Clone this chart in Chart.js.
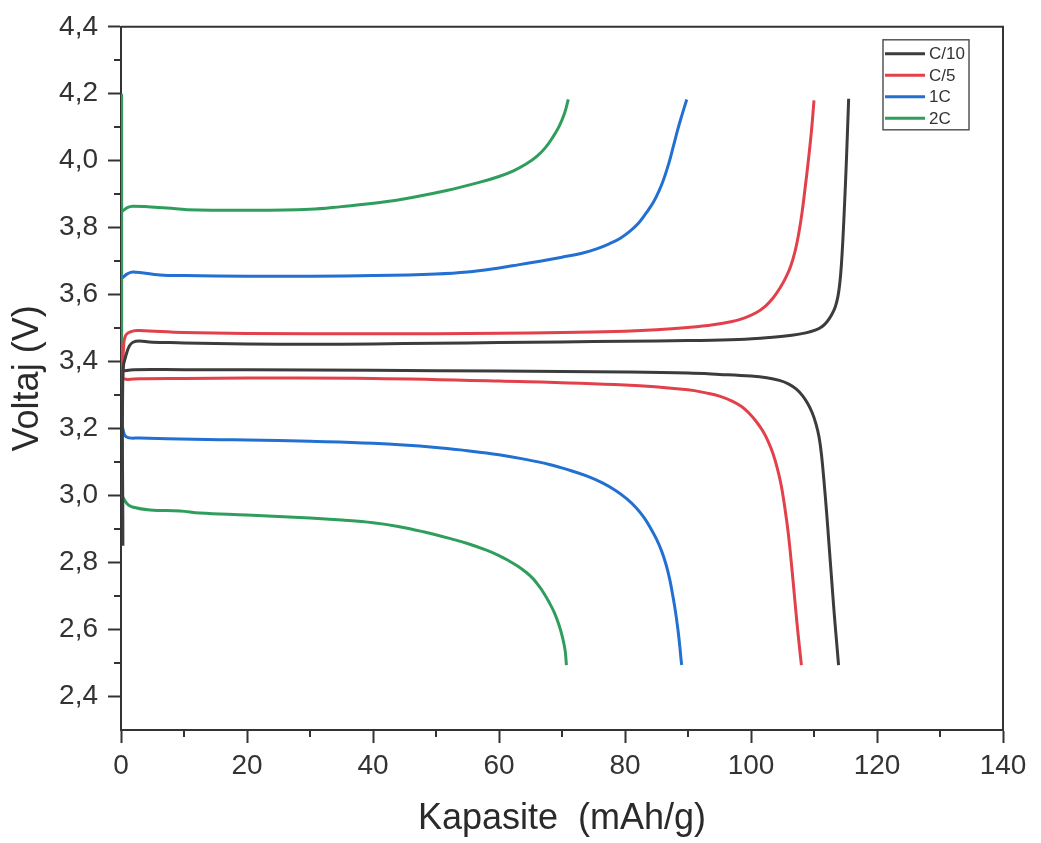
<!DOCTYPE html>
<html>
<head>
<meta charset="utf-8">
<title>Voltaj - Kapasite</title>
<script src="https://cdn.jsdelivr.net/npm/chart.js@4.4.0/dist/chart.umd.min.js"></script>
<style>
  html, body { margin: 0; padding: 0; background: #fff; }
  #wrap { width: 1041px; height: 843px; }
</style>
</head>
<body>
<div id="wrap"><canvas id="chart" width="1041" height="843"></canvas></div>
<script>
// legend labels and colours
const rateLabels = ['C/10', 'C/5', '1C', '2C'];
const rateColors = ['#3c3c3c', '#e2404a', '#2270d2', '#2f9e5c'];

// tick labels
const xTicks = [0, 20, 40, 60, 80, 100, 120, 140];
const yTicks = [2.4, 2.6, 2.8, 3.0, 3.2, 3.4, 3.6, 3.8, 4.0, 4.2, 4.4];
const xMinorTicks = [10, 30, 50, 70, 90, 110, 130];
const yMinorTicks = [2.5, 2.7, 2.9, 3.1, 3.3, 3.5, 3.7, 3.9, 4.1, 4.3];

// C/10 (mAh/g, V)
const c10ChargeCap = [0.3, 0.3, 0.8, 1.9, 5, 10, 20, 30, 40, 50, 60, 70, 80, 90, 98, 103, 106.5, 108.7, 110.2, 111.3, 112.1, 112.8, 113.4, 113.8, 114.1, 114.35, 114.6, 114.85, 115.1, 115.3, 115.5];
const c10ChargeV   = [2.85, 3.37, 3.42, 3.458, 3.458, 3.456, 3.453, 3.452, 3.453, 3.455, 3.457, 3.459, 3.461, 3.463, 3.466, 3.472, 3.479, 3.486, 3.494, 3.505, 3.52, 3.54, 3.565, 3.595, 3.635, 3.69, 3.77, 3.87, 3.98, 4.08, 4.185];
const c10DisCap = [0.3, 2, 10, 20, 40, 60, 80, 90, 95, 100, 102.5, 104.5, 106, 107.2, 108.2, 109, 109.7, 110.3, 110.8, 111.2, 111.6, 112, 112.4, 112.8, 113.2, 113.6, 113.9];
const c10DisV   = [3.372, 3.376, 3.376, 3.376, 3.374, 3.372, 3.369, 3.366, 3.362, 3.357, 3.352, 3.344, 3.333, 3.318, 3.298, 3.275, 3.248, 3.215, 3.175, 3.12, 3.04, 2.95, 2.85, 2.75, 2.65, 2.56, 2.494];

// C/5
const c5ChargeCap = [0.3, 0.4, 0.8, 2, 3, 10, 20, 40, 60, 70, 80, 85, 90, 94, 97, 99, 100.8, 102.3, 103.5, 104.6, 105.5, 106.3, 107, 107.6, 108.1, 108.6, 109.1, 109.6, 110];
const c5ChargeV   = [3.35, 3.44, 3.48, 3.492, 3.493, 3.487, 3.484, 3.483, 3.485, 3.487, 3.491, 3.495, 3.502, 3.51, 3.52, 3.531, 3.546, 3.566, 3.59, 3.62, 3.65, 3.685, 3.73, 3.785, 3.845, 3.92, 4.0, 4.09, 4.18];
const c5DisCap = [0.3, 1, 3, 10, 20, 40, 60, 80, 90, 93, 95, 97, 98.5, 99.7, 100.8, 101.8, 102.7, 103.5, 104.2, 104.8, 105.4, 105.9, 106.4, 106.9, 107.4, 108];
const c5DisV   = [3.35, 3.347, 3.349, 3.35, 3.351, 3.35, 3.342, 3.33, 3.316, 3.306, 3.297, 3.282, 3.266, 3.246, 3.222, 3.195, 3.163, 3.125, 3.08, 3.03, 2.96, 2.89, 2.8, 2.7, 2.6, 2.494];

// 1C
const c1ChargeCap = [0.2, 1, 1.9, 6.2, 10, 20, 30, 40, 50, 55, 60, 63, 66.5, 70, 73, 75.5, 77.5, 79.2, 80.8, 82.2, 83.4, 84.5, 85.4, 86.2, 87, 87.7, 88.4, 89.1, 89.8];
const c1ChargeV   = [3.65, 3.662, 3.668, 3.659, 3.657, 3.655, 3.655, 3.657, 3.662, 3.668, 3.68, 3.689, 3.7, 3.712, 3.723, 3.737, 3.752, 3.768, 3.79, 3.815, 3.845, 3.876, 3.91, 3.948, 3.995, 4.045, 4.095, 4.14, 4.183];
const c1DisCap = [0.2, 0.8, 3, 7.3, 15.7, 20, 30, 40, 50, 55, 60, 64, 68, 71, 74, 76.5, 78.5, 80.3, 81.8, 83, 84, 85, 85.8, 86.5, 87.1, 87.6, 88, 88.4, 88.7, 88.9, 89];
const c1DisV   = [3.206, 3.176, 3.172, 3.17, 3.167, 3.166, 3.162, 3.156, 3.144, 3.134, 3.122, 3.109, 3.093, 3.077, 3.058, 3.037, 3.015, 2.99, 2.963, 2.935, 2.905, 2.87, 2.835, 2.795, 2.75, 2.7, 2.655, 2.6, 2.55, 2.51, 2.494];

// 2C
const c2RestCap = [0.1, 0.1];
const c2RestV   = [4.2, 2.99];
const c2ChargeCap = [0.1, 1, 1.9, 7.3, 10.5, 20, 30, 35, 41.1, 46.4, 51.7, 57, 60, 62.3, 64.3, 66, 67.4, 68.6, 69.6, 70.4, 71];
const c2ChargeV   = [3.847, 3.86, 3.864, 3.859, 3.854, 3.852, 3.855, 3.863, 3.875, 3.891, 3.911, 3.936, 3.953, 3.97, 3.99, 4.013, 4.04, 4.072, 4.105, 4.142, 4.183];
const c2DisCap = [0.2, 1, 1.8, 4.6, 9.4, 12.5, 20, 30, 35, 40, 44, 48, 52, 55, 58, 60, 61.5, 63, 64.3, 65.4, 66.3, 67, 68, 68.8, 69.5, 70.1, 70.5, 70.7];
const c2DisV   = [2.998, 2.975, 2.966, 2.957, 2.954, 2.948, 2.942, 2.933, 2.927, 2.919, 2.908, 2.892, 2.873, 2.857, 2.837, 2.821, 2.806, 2.789, 2.771, 2.752, 2.731, 2.712, 2.68, 2.65, 2.615, 2.575, 2.537, 2.494];

const fontFamily = '"Liberation Sans", Arial, sans-serif';
const axisColor = '#333333';

function toPoints(caps, volts) {
  return caps.map((c, i) => ({ x: c, y: volts[i] }));
}

// join segments with a gap between them
function joinSegments() {
  let out = [];
  for (let i = 0; i < arguments.length; i++) {
    if (i > 0) out.push({ x: 0, y: null });
    out = out.concat(arguments[i]);
  }
  return out;
}

const seriesData = [
  joinSegments(toPoints(c10ChargeCap, c10ChargeV), toPoints(c10DisCap, c10DisV)),
  joinSegments(toPoints(c5ChargeCap, c5ChargeV), toPoints(c5DisCap, c5DisV)),
  joinSegments(toPoints(c1ChargeCap, c1ChargeV), toPoints(c1DisCap, c1DisV)),
  joinSegments(toPoints(c2RestCap, c2RestV), toPoints(c2ChargeCap, c2ChargeV), toPoints(c2DisCap, c2DisV))
];

// frame on top / right, minor ticks and the small legend box
const framePlugin = {
  id: 'frame',
  afterDraw(chart) {
    const ctx = chart.ctx;
    const a = chart.chartArea;
    const xs = chart.scales.x, ys = chart.scales.y;
    ctx.save();
    ctx.strokeStyle = axisColor;
    ctx.lineWidth = 2;
    ctx.beginPath();
    ctx.moveTo(a.left, a.top);
    ctx.lineTo(a.right, a.top);
    ctx.lineTo(a.right, a.bottom);
    ctx.stroke();

    ctx.beginPath();
    xMinorTicks.forEach(v => {
      const px = Math.round(xs.getPixelForValue(v));
      ctx.moveTo(px, a.bottom);
      ctx.lineTo(px, a.bottom + 7);
    });
    yMinorTicks.forEach(v => {
      const py = Math.round(ys.getPixelForValue(v));
      ctx.moveTo(a.left, py);
      ctx.lineTo(a.left - 7, py);
    });
    ctx.stroke();

    // legend
    const bx = a.right - 120, by = a.top + 13, bw = 86, bh = 90;
    ctx.lineWidth = 1.5;
    ctx.strokeStyle = '#555';
    ctx.strokeRect(bx, by, bw, bh);
    ctx.font = '17px ' + fontFamily;
    ctx.textBaseline = 'middle';
    ctx.fillStyle = '#333';
    chart.data.datasets.forEach((ds, i) => {
      const y = by + 14 + i * 21.5;
      ctx.strokeStyle = ds.borderColor;
      ctx.lineWidth = 3;
      ctx.beginPath();
      ctx.moveTo(bx + 2, y);
      ctx.lineTo(bx + 42, y);
      ctx.stroke();
      ctx.fillText(ds.label, bx + 46, y + 1);
    });
    ctx.restore();
  }
};

const datasets = rateLabels.map((label, i) => ({
  label: label,
  data: seriesData[i],
  borderColor: rateColors[i],
  backgroundColor: rateColors[i],
  borderWidth: 3,
  pointRadius: 0,
  tension: 0.4,
  borderJoinStyle: 'round',
  fill: false
}));

new Chart(document.getElementById('chart').getContext('2d'), {
  type: 'line',
  data: { datasets: datasets },
  plugins: [framePlugin],
  options: {
    responsive: false,
    animation: false,
    spanGaps: false,
    layout: { padding: { top: 20, right: 38, left: 0, bottom: 0 } },
    plugins: {
      legend: { display: false },
      tooltip: { enabled: false }
    },
    scales: {
      x: {
        type: 'linear',
        min: 0,
        max: 140,
        afterBuildTicks: scale => { scale.ticks = xTicks.map(v => ({ value: v })); },
        afterFit: scale => { scale.height = 113; },
        ticks: {
          color: axisColor,
          font: { family: fontFamily, size: 28 },
          padding: 6,
          maxRotation: 0,
          callback: v => String(v)
        },
        grid: { drawOnChartArea: false, drawTicks: true, tickLength: 13, tickWidth: 2, tickColor: axisColor },
        border: { display: true, color: axisColor, width: 2 },
        title: {
          display: true,
          text: 'Kapasite  (mAh/g)',
          color: '#2a2a2a',
          font: { family: fontFamily, size: 36 },
          padding: { top: 0, bottom: 2 }
        }
      },
      y: {
        type: 'linear',
        min: 2.3,
        max: 4.4,
        afterBuildTicks: scale => { scale.ticks = yTicks.map(v => ({ value: v })); },
        afterFit: scale => { scale.width = 121; },
        ticks: {
          color: axisColor,
          font: { family: fontFamily, size: 28 },
          padding: 10,
          callback: v => Number(v).toFixed(1).replace('.', ',')
        },
        grid: { drawOnChartArea: false, drawTicks: true, tickLength: 13, tickWidth: 2, tickColor: axisColor },
        border: { display: true, color: axisColor, width: 2 },
        title: {
          display: true,
          text: 'Voltaj (V)',
          color: '#2a2a2a',
          font: { family: fontFamily, size: 36 },
          padding: { top: 6, bottom: 0 }
        }
      }
    }
  }
});
</script>
</body>
</html>
